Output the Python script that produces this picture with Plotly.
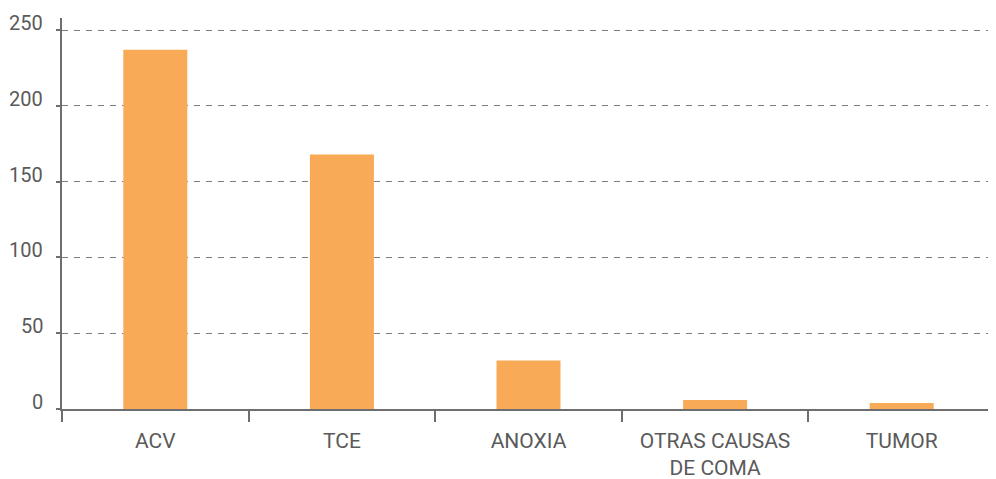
import plotly.graph_objects as go

causas = ["ACV", "TCE", "ANOXIA", "OTRAS CAUSAS<br>DE COMA", "TUMOR"]
pacientes = [237, 168, 32, 6, 4]
ticks_y = [0, 50, 100, 150, 200, 250]

fig = go.Figure()

fig.add_trace(go.Bar(
    x=causas,
    y=pacientes,
    marker=dict(color='#F9AA57', line=dict(width=0)),
    hovertemplate='%{x}: %{y}<extra></extra>'
))

# y tick labels sit a bit above their gridlines
for v in ticks_y:
    fig.add_annotation(
        x=0, xref='paper', y=v, yref='y',
        text=str(v), showarrow=False,
        xanchor='right', yanchor='middle',
        xshift=-17, yshift=7,
        font=dict(family='Roboto', size=20, color='#5a5a5a')
    )

# page body adds 8px margin, so the figure is a bit smaller
fig.update_layout(
    width=988,
    height=471,
    margin=dict(l=54, r=1, t=10, b=70),
    paper_bgcolor='white',
    plot_bgcolor='white',
    bargap=0.657,
    showlegend=False,
    font=dict(family='Roboto', color='#5a5a5a', size=20),
    xaxis=dict(
        automargin=False,
        showline=True,
        linecolor='#6e6e6e',
        linewidth=1.5,
        ticks='outside',
        tickson='boundaries',
        ticklen=11,
        tickwidth=1.5,
        tickcolor='#6e6e6e',
        showgrid=False,
        ticklabelstandoff=12,
        tickfont=dict(size=21, color='#5a5a5a'),
    ),
    yaxis=dict(
        automargin=False,
        range=[0, 258],
        tickvals=ticks_y,
        showticklabels=False,
        showline=True,
        linecolor='#6e6e6e',
        linewidth=1.5,
        ticks='outside',
        ticklen=4,
        tickwidth=1.5,
        tickcolor='#6e6e6e',
        showgrid=True,
        gridcolor='#7d7d7d',
        gridwidth=1,
        griddash='6px,6px',
        zeroline=False,
    ),
)

fig.write_html("out.html")
